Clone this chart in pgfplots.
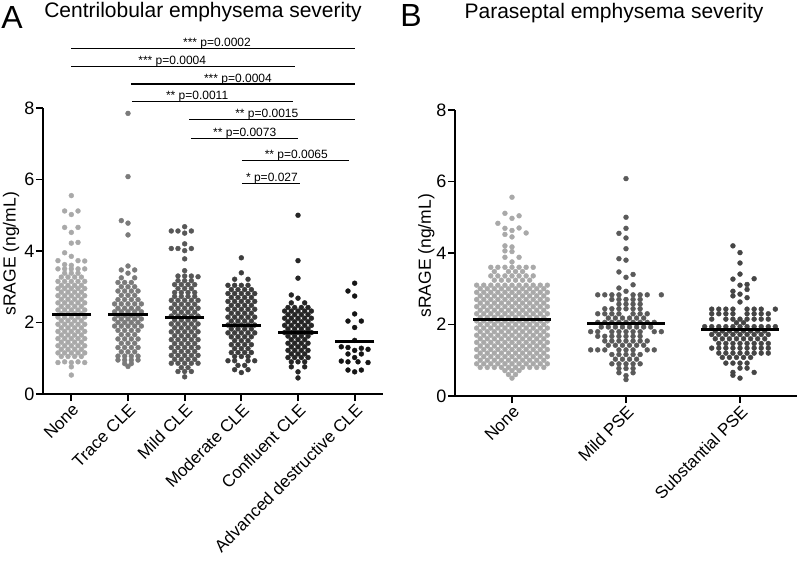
\documentclass[border=0pt]{standalone}
\usepackage{fontspec}
\setmainfont{Liberation Sans}
\usepackage{pgfplots}
\pgfplotsset{compat=1.18}
\definecolor{cNone}{HTML}{A9A9A9}
\definecolor{cTrace}{HTML}{7B7B7B}
\definecolor{cMild}{HTML}{575757}
\definecolor{cMod}{HTML}{3D3D3D}
\definecolor{cConf}{HTML}{262626}
\definecolor{cAdv}{HTML}{151515}
\definecolor{cBMild}{HTML}{5A5A5A}
\definecolor{cBSub}{HTML}{454545}
\newcommand{\tickfont}{\fontsize{17}{20}\selectfont}
\newcommand{\ytickfont}{\fontsize{18}{21}\selectfont}
\newcommand{\labfont}{\fontsize{17.5}{21}\selectfont}
\newcommand{\pfont}{\fontsize{12}{14}\selectfont}
\pgfplotsset{
  gp/.style={scale only axis, axis x line*=bottom, axis y line*=left,
    axis line style={line width=1.8pt}, every tick/.style={line width=1.8pt, black},
    tick align=outside, major tick length=7pt, ymin=0, ymax=8, ytick={0,2,4,6,8},
    clip=false, /pgf/number format/assume math mode=true,
    tick label style={font=\tickfont}, yticklabel style={inner sep=1.5pt, font=\ytickfont},
    x tick label style={rotate=45, anchor=north east, inner sep=1pt},
    ylabel={sRAGE (ng/mL)}},
  dots/.style={only marks, mark=*, mark size=2.45pt},
  med/.style={only marks, mark=-, mark size=#1, mark options={black, line width=3pt}, forget plot}
}
\begin{document}
\begin{tikzpicture}
\path[use as bounding box] (-43pt,-168pt) rectangle (754pt,394pt);
\begin{axis}[gp, at={(0pt,0pt)}, anchor=south west, width=340pt, height=286pt,
  ylabel style={at={(axis description cs:-0.094,0.49)}, anchor=center, font=\labfont},
  xmin=-0.5, xmax=5.5, xtick={0,1,2,3,4,5},
  xticklabels={None,Trace CLE,Mild CLE,Moderate CLE,Confluent CLE,Advanced destructive CLE}]
% None
\addplot[dots, cNone] table[row sep=\\, x expr=\thisrow{k}*0.118, y=y]{k y\\
0 5.55\\-1 5.12\\1 5.12\\0 5.02\\-1 4.66\\1 4.66\\0 4.52\\0 4.22\\1 4.24\\-1 3.95\\0 3.85\\-2 3.73\\1 3.73\\2 3.72\\-1 3.62\\0 3.6\\
-2 3.5\\-1 3.5\\0 3.5\\1 3.5\\2 3.5\\
-1 3.38\\0 3.38\\1 3.38\\
-1.5 3.27\\-0.5 3.27\\0.5 3.27\\1.5 3.27\\
-2 3.15\\-1 3.15\\0 3.15\\1 3.15\\2 3.15\\
-1.5 3.04\\-0.5 3.04\\0.5 3.04\\1.5 3.04\\
-2 2.95\\-1 2.95\\0 2.95\\1 2.95\\2 2.95\\
-1.5 2.85\\-0.5 2.85\\0.5 2.85\\1.5 2.85\\
-2 2.75\\-1 2.75\\0 2.75\\1 2.75\\2 2.75\\
-1.5 2.65\\-0.5 2.65\\0.5 2.65\\1.5 2.65\\
-2 2.55\\-1 2.55\\0 2.55\\1 2.55\\2 2.55\\
-1.5 2.45\\-0.5 2.45\\0.5 2.45\\1.5 2.45\\
-2 2.35\\-1 2.35\\0 2.35\\1 2.35\\2 2.35\\
-1.5 2.25\\-0.5 2.25\\0.5 2.25\\1.5 2.25\\
-2 2.15\\-1 2.15\\0 2.15\\1 2.15\\2 2.15\\
-1.5 2.05\\-0.5 2.05\\0.5 2.05\\1.5 2.05\\
-2 1.95\\-1 1.95\\0 1.95\\1 1.95\\2 1.95\\
-1.5 1.85\\-0.5 1.85\\0.5 1.85\\1.5 1.85\\
-2 1.75\\-1 1.75\\0 1.75\\1 1.75\\2 1.75\\
-1.5 1.65\\-0.5 1.65\\0.5 1.65\\1.5 1.65\\
-2 1.55\\-1 1.55\\0 1.55\\1 1.55\\2 1.55\\
-1.5 1.45\\-0.5 1.45\\0.5 1.45\\1.5 1.45\\
-2 1.35\\-1 1.35\\0 1.35\\1 1.35\\2 1.35\\
-1.5 1.25\\-0.5 1.25\\0.5 1.25\\1.5 1.25\\
-2 1.15\\-1 1.15\\0 1.15\\1 1.15\\2 1.15\\
-1.5 1.05\\-0.5 1.05\\0.5 1.05\\1.5 1.05\\
-2 0.88\\-1 0.9\\0 0.88\\1 0.9\\2 0.88\\0 0.76\\0 0.53\\
};
% Trace
\addplot[dots, cTrace] table[row sep=\\, x expr=\thisrow{k}*0.118+1, y=y]{k y\\
0 7.85\\0 6.08\\-1 4.85\\0 4.78\\0 4.45\\0 3.58\\-1 3.47\\1 3.47\\0 3.38\\-1 3.25\\1 3.25\\-1.5 3.12\\-0.5 3.12\\0.5 3.12\\
-1 3.0\\0 3.0\\1 3.0\\
-1.5 2.88\\-0.5 2.88\\0.5 2.88\\1.5 2.88\\
-1 2.76\\0 2.76\\1 2.76\\
-1.5 2.64\\-0.5 2.64\\0.5 2.64\\1.5 2.64\\
-2 2.52\\-1 2.52\\0 2.52\\1 2.52\\2 2.52\\
-1.5 2.4\\-0.5 2.4\\0.5 2.4\\1.5 2.4\\
-2 2.3\\-1 2.3\\0 2.3\\1 2.3\\2 2.3\\
-1.5 2.2\\-0.5 2.2\\0.5 2.2\\1.5 2.2\\
-2 2.1\\-1 2.1\\0 2.1\\1 2.1\\2 2.1\\
-1.5 2.0\\-0.5 2.0\\0.5 2.0\\1.5 2.0\\
-2 1.9\\-1 1.9\\0 1.9\\1 1.9\\2 1.9\\
-1.5 1.78\\-0.5 1.78\\0.5 1.78\\1.5 1.78\\
-1 1.66\\0 1.66\\1 1.66\\
-1.5 1.54\\-0.5 1.54\\0.5 1.54\\1.5 1.54\\
-1 1.42\\0 1.42\\1 1.42\\
-1.5 1.3\\-0.5 1.3\\0.5 1.3\\1.5 1.3\\
-1 1.18\\0 1.18\\1 1.18\\
-1.5 1.06\\-0.5 1.06\\0.5 1.06\\1.5 1.06\\
-1.5 0.95\\-0.5 0.95\\0.5 0.95\\1.5 0.95\\
-0.5 0.85\\0.5 0.85\\0 0.77\\
};
% Mild
\addplot[dots, cMild] table[row sep=\\, x expr=\thisrow{k}*0.118+2, y=y]{k y\\
0 4.68\\-2 4.56\\-1 4.56\\1 4.56\\0 4.5\\0 4.2\\-2 4.07\\-1 4.07\\1 4.07\\0 4.01\\0 3.78\\0 3.45\\-1 3.3\\0 3.3\\1 3.3\\2 3.28\\
-1 3.17\\0 3.17\\1 3.17\\
-1.5 3.06\\-0.5 3.06\\0.5 3.06\\1.5 3.06\\
-1 2.95\\0 2.95\\1 2.95\\
-1.5 2.84\\-0.5 2.84\\0.5 2.84\\1.5 2.84\\
-1.5 2.73\\-0.5 2.73\\0.5 2.73\\1.5 2.73\\
-2 2.62\\-1 2.62\\0 2.62\\1 2.62\\2 2.62\\
-1.5 2.51\\-0.5 2.51\\0.5 2.51\\1.5 2.51\\
-2 2.4\\-1 2.4\\0 2.4\\1 2.4\\2 2.4\\
-1.5 2.29\\-0.5 2.29\\0.5 2.29\\1.5 2.29\\
-2 2.18\\-1 2.18\\0 2.18\\1 2.18\\2 2.18\\
-1.5 2.07\\-0.5 2.07\\0.5 2.07\\1.5 2.07\\
-2 1.96\\-1 1.96\\0 1.96\\1 1.96\\2 1.96\\
-1.5 1.85\\-0.5 1.85\\0.5 1.85\\1.5 1.85\\
-2 1.74\\-1 1.74\\0 1.74\\1 1.74\\2 1.74\\
-1.5 1.63\\-0.5 1.63\\0.5 1.63\\1.5 1.63\\
-2 1.52\\-1 1.52\\0 1.52\\1 1.52\\2 1.52\\
-1.5 1.41\\-0.5 1.41\\0.5 1.41\\1.5 1.41\\
-2 1.3\\-1 1.3\\0 1.3\\1 1.3\\2 1.3\\
-1.5 1.19\\-0.5 1.19\\0.5 1.19\\1.5 1.19\\
-2 1.08\\-1 1.08\\0 1.08\\1 1.08\\2 1.08\\
-1.5 0.97\\-0.5 0.97\\0.5 0.97\\1.5 0.97\\
-2 0.86\\-1 0.86\\0 0.86\\1 0.86\\2 0.86\\
-0.5 0.74\\0.5 0.74\\-1 0.63\\0 0.63\\1 0.63\\0 0.48\\
};
% Moderate
\addplot[dots, cMod] table[row sep=\\, x expr=\thisrow{k}*0.118+3, y=y]{k y\\
0 3.81\\0 3.39\\-1 3.21\\1 3.21\\-2 3.04\\-1 3.04\\0 3.04\\1 3.04\\
-1.5 2.92\\-0.5 2.92\\0.5 2.92\\1.5 2.92\\
-2 2.81\\-1 2.81\\0 2.81\\1 2.81\\2 2.81\\
-1.5 2.7\\-0.5 2.7\\0.5 2.7\\1.5 2.7\\
-2 2.59\\-1 2.59\\0 2.59\\1 2.59\\2 2.59\\
-1.5 2.48\\-0.5 2.48\\0.5 2.48\\1.5 2.48\\
-2 2.37\\-1 2.37\\0 2.37\\1 2.37\\2 2.37\\
-1.5 2.26\\-0.5 2.26\\0.5 2.26\\1.5 2.26\\
-2 2.15\\-1 2.15\\0 2.15\\1 2.15\\2 2.15\\
-1.5 2.04\\-0.5 2.04\\0.5 2.04\\1.5 2.04\\
-2 1.93\\-1 1.93\\0 1.93\\1 1.93\\2 1.93\\
-1.5 1.82\\-0.5 1.82\\0.5 1.82\\1.5 1.82\\
-2 1.71\\-1 1.71\\0 1.71\\1 1.71\\2 1.71\\
-1.5 1.6\\-0.5 1.6\\0.5 1.6\\1.5 1.6\\
-1 1.49\\0 1.49\\1 1.49\\
-1.5 1.38\\-0.5 1.38\\0.5 1.38\\1.5 1.38\\
-1 1.27\\0 1.27\\1 1.27\\
-1.5 1.16\\-0.5 1.16\\0.5 1.16\\1.5 1.16\\
-1 1.05\\0 1.05\\1 1.05\\
-2 0.93\\-1 0.93\\1 0.93\\2 0.93\\-0.5 0.8\\0.5 0.8\\-1 0.68\\1 0.68\\0 0.6\\
};
% Confluent
\addplot[dots, cConf] table[row sep=\\, x expr=\thisrow{k}*0.118+4, y=y]{k y\\
0 5.0\\0 3.73\\0 3.24\\-1 2.77\\0 2.68\\-1 2.55\\1 2.55\\
-1.5 2.42\\-0.5 2.42\\0.5 2.42\\1.5 2.42\\
-2 2.32\\-1 2.32\\0 2.32\\1 2.32\\2 2.32\\
-1.5 2.22\\-0.5 2.22\\0.5 2.22\\1.5 2.22\\
-2 2.12\\-1 2.12\\0 2.12\\1 2.12\\2 2.12\\
-1.5 2.02\\-0.5 2.02\\0.5 2.02\\1.5 2.02\\
-2 1.92\\-1 1.92\\0 1.92\\1 1.92\\2 1.92\\
-1.5 1.82\\-0.5 1.82\\0.5 1.82\\1.5 1.82\\
-2 1.72\\-1 1.72\\0 1.72\\1 1.72\\2 1.72\\
-1.5 1.62\\-0.5 1.62\\0.5 1.62\\1.5 1.62\\
-1 1.52\\0 1.52\\1 1.52\\
-1.5 1.42\\-0.5 1.42\\0.5 1.42\\1.5 1.42\\
-1 1.32\\0 1.32\\1 1.32\\
-1.5 1.22\\-0.5 1.22\\0.5 1.22\\1.5 1.22\\
-1 1.12\\0 1.12\\1 1.12\\
-1.5 1.02\\-0.5 1.02\\0.5 1.02\\1.5 1.02\\
-1 0.9\\0 0.9\\1 0.9\\-1 0.76\\1 0.76\\0 0.62\\0 0.45\\
};
% Advanced
\addplot[dots, cAdv] table[row sep=\\, x expr=\thisrow{k}*0.118+5, y=y]{k y\\
0 3.1\\-1 2.88\\0 2.74\\0 2.24\\-1 2.04\\1 2.04\\0 1.86\\0 1.5\\-2 1.32\\-1 1.3\\1 1.28\\2 1.25\\0 1.22\\-1 1.12\\1 1.12\\0 1.02\\-2 0.92\\-1 0.9\\0.5 0.9\\2 0.88\\-1 0.67\\1 0.67\\0 0.62\\
};
% medians
\addplot[med=19.8pt] coordinates {(0,2.23) (1,2.21) (2,2.13) (3,1.93) (4,1.71) (5,1.48)};
% significance brackets
\draw[line width=1.3pt] (axis cs:0,9.67) -- (axis cs:5,9.67);
\node[font=\pfont, anchor=base] at (axis cs:2.57,9.72) {*** p=0.0002};
\draw[line width=1.3pt] (axis cs:0,9.16) -- (axis cs:3.95,9.16);
\node[font=\pfont, anchor=base] at (axis cs:1.78,9.21) {*** p=0.0004};
\draw[line width=1.3pt] (axis cs:1.05,8.67) -- (axis cs:5,8.67);
\node[font=\pfont, anchor=base] at (axis cs:2.94,8.72) {*** p=0.0004};
\draw[line width=1.3pt] (axis cs:1.07,8.18) -- (axis cs:3.91,8.18);
\node[font=\pfont, anchor=base] at (axis cs:2.22,8.23) {** p=0.0011};
\draw[line width=1.3pt] (axis cs:2.08,7.68) -- (axis cs:5,7.68);
\node[font=\pfont, anchor=base] at (axis cs:3.45,7.73) {** p=0.0015};
\draw[line width=1.3pt] (axis cs:2.11,7.15) -- (axis cs:4,7.15);
\node[font=\pfont, anchor=base] at (axis cs:3.06,7.2) {** p=0.0073};
\draw[line width=1.3pt] (axis cs:3.01,6.53) -- (axis cs:4.9,6.53);
\node[font=\pfont, anchor=base] at (axis cs:3.97,6.58) {** p=0.0065};
\draw[line width=1.3pt] (axis cs:3.01,5.89) -- (axis cs:4.04,5.89);
\node[font=\pfont, anchor=base] at (axis cs:3.54,5.94) {* p=0.027};
\end{axis}

\begin{axis}[gp, at={(412pt,-2pt)}, anchor=south west, width=342pt, height=286pt,
  ylabel style={at={(axis description cs:-0.084,0.49)}, anchor=center, font=\labfont},
  xmin=-0.5, xmax=2.5, xtick={0,1,2},
  xticklabels={None,Mild PSE,Substantial PSE}]
% None
\addplot[dots, cNone] table[row sep=\\, x expr=\thisrow{k}*0.062, y=y]{k y\\
0 5.56\\-1 5.11\\1 5.04\\0 4.97\\-2 4.83\\-1 4.69\\1 4.7\\0 4.63\\2 4.56\\-1 4.52\\0 4.45\\-1 4.2\\0 4.17\\-1 4.06\\0 4.04\\-1 3.88\\1 3.88\\0 3.75\\
-3 3.6\\-2 3.6\\-1 3.6\\0 3.6\\1 3.6\\2 3.6\\3 3.6\\
-2.5 3.48\\-0.5 3.48\\0.5 3.48\\1.5 3.48\\
-3 3.36\\-2 3.36\\-1 3.36\\0 3.36\\1 3.36\\2 3.36\\3 3.36\\
-2.5 3.24\\-1.5 3.24\\-0.5 3.24\\0.5 3.24\\1.5 3.24\\2.5 3.24\\
-5 3.1\\-4 3.1\\-3 3.1\\-2 3.1\\-1 3.1\\0 3.1\\1 3.1\\2 3.1\\3 3.1\\4 3.1\\5 3.1\\
-4.5 3.0\\-3.5 3.0\\-2.5 3.0\\-1.5 3.0\\-0.5 3.0\\0.5 3.0\\1.5 3.0\\2.5 3.0\\3.5 3.0\\4.5 3.0\\
-5 2.9\\-4 2.9\\-3 2.9\\-2 2.9\\-1 2.9\\0 2.9\\1 2.9\\2 2.9\\3 2.9\\4 2.9\\5 2.9\\
-4.5 2.8\\-3.5 2.8\\-2.5 2.8\\-1.5 2.8\\-0.5 2.8\\0.5 2.8\\1.5 2.8\\2.5 2.8\\3.5 2.8\\4.5 2.8\\
-5 2.7\\-4 2.7\\-3 2.7\\-2 2.7\\-1 2.7\\0 2.7\\1 2.7\\2 2.7\\3 2.7\\4 2.7\\5 2.7\\
-4.5 2.6\\-3.5 2.6\\-2.5 2.6\\-1.5 2.6\\-0.5 2.6\\0.5 2.6\\1.5 2.6\\2.5 2.6\\3.5 2.6\\4.5 2.6\\
-5 2.5\\-4 2.5\\-3 2.5\\-2 2.5\\-1 2.5\\0 2.5\\1 2.5\\2 2.5\\3 2.5\\4 2.5\\5 2.5\\
-4.5 2.4\\-3.5 2.4\\-2.5 2.4\\-1.5 2.4\\-0.5 2.4\\0.5 2.4\\1.5 2.4\\2.5 2.4\\3.5 2.4\\4.5 2.4\\
-5 2.3\\-4 2.3\\-3 2.3\\-2 2.3\\-1 2.3\\0 2.3\\1 2.3\\2 2.3\\3 2.3\\4 2.3\\5 2.3\\
-4.5 2.2\\-3.5 2.2\\-2.5 2.2\\-1.5 2.2\\-0.5 2.2\\0.5 2.2\\1.5 2.2\\2.5 2.2\\3.5 2.2\\4.5 2.2\\
-5 2.1\\-4 2.1\\-3 2.1\\-2 2.1\\-1 2.1\\0 2.1\\1 2.1\\2 2.1\\3 2.1\\4 2.1\\5 2.1\\
-4.5 2.0\\-3.5 2.0\\-2.5 2.0\\-1.5 2.0\\-0.5 2.0\\0.5 2.0\\1.5 2.0\\2.5 2.0\\3.5 2.0\\4.5 2.0\\
-5 1.9\\-4 1.9\\-3 1.9\\-2 1.9\\-1 1.9\\0 1.9\\1 1.9\\2 1.9\\3 1.9\\4 1.9\\5 1.9\\
-4.5 1.8\\-3.5 1.8\\-2.5 1.8\\-1.5 1.8\\-0.5 1.8\\0.5 1.8\\1.5 1.8\\2.5 1.8\\3.5 1.8\\4.5 1.8\\
-5 1.7\\-4 1.7\\-3 1.7\\-2 1.7\\-1 1.7\\0 1.7\\1 1.7\\2 1.7\\3 1.7\\4 1.7\\5 1.7\\
-4.5 1.6\\-3.5 1.6\\-2.5 1.6\\-1.5 1.6\\-0.5 1.6\\0.5 1.6\\1.5 1.6\\2.5 1.6\\3.5 1.6\\4.5 1.6\\
-5 1.5\\-4 1.5\\-3 1.5\\-2 1.5\\-1 1.5\\0 1.5\\1 1.5\\2 1.5\\3 1.5\\4 1.5\\5 1.5\\
-4.5 1.4\\-3.5 1.4\\-2.5 1.4\\-1.5 1.4\\-0.5 1.4\\0.5 1.4\\1.5 1.4\\2.5 1.4\\3.5 1.4\\4.5 1.4\\
-5 1.3\\-4 1.3\\-3 1.3\\-2 1.3\\-1 1.3\\0 1.3\\1 1.3\\2 1.3\\3 1.3\\4 1.3\\5 1.3\\
-4.5 1.2\\-3.5 1.2\\-2.5 1.2\\-1.5 1.2\\-0.5 1.2\\0.5 1.2\\1.5 1.2\\2.5 1.2\\3.5 1.2\\4.5 1.2\\
-5 1.1\\-4 1.1\\-3 1.1\\-2 1.1\\-1 1.1\\0 1.1\\1 1.1\\2 1.1\\3 1.1\\4 1.1\\5 1.1\\
-4.5 1.0\\-3.5 1.0\\-2.5 1.0\\-1.5 1.0\\-0.5 1.0\\0.5 1.0\\1.5 1.0\\2.5 1.0\\3.5 1.0\\4.5 1.0\\
-5 0.9\\-4 0.9\\-3 0.9\\-2 0.9\\-1 0.9\\0 0.9\\1 0.9\\2 0.9\\3 0.9\\4 0.9\\5 0.9\\
-4.5 0.8\\-3.5 0.8\\-2.5 0.8\\-1.5 0.8\\-0.5 0.8\\0.5 0.8\\1.5 0.8\\2.5 0.8\\3.5 0.8\\4.5 0.8\\
-1 0.71\\0 0.71\\1 0.71\\-0.5 0.6\\0.5 0.6\\0 0.5\\
};
% Mild PSE
\addplot[dots, cBMild] table[row sep=\\, x expr=\thisrow{k}*0.062+1, y=y]{k y\\
0 6.08\\0 5.0\\0 4.69\\-1 4.55\\0 4.42\\0 4.12\\-1 3.84\\0 3.8\\-1 3.47\\1 3.4\\0 3.32\\1 3.11\\-1 3.02\\0 2.93\\
-4 2.83\\-3 2.83\\-2 2.83\\-1 2.83\\1 2.83\\2 2.83\\3 2.83\\5 2.83\\
-2 2.7\\-1 2.7\\0 2.7\\1 2.7\\2 2.7\\
-1 2.57\\0 2.57\\1 2.57\\2 2.57\\
-3 2.44\\-2 2.44\\-1 2.44\\0 2.44\\1 2.44\\2 2.44\\
-4 2.3\\-3 2.3\\-2 2.3\\-1 2.3\\1 2.3\\2 2.3\\3 2.3\\
-2.5 2.18\\-1.5 2.18\\-0.5 2.18\\0.5 2.18\\1.5 2.18\\2.5 2.18\\
-4 2.06\\-3 2.06\\-2 2.06\\-1 2.06\\0 2.06\\1 2.06\\2 2.06\\3 2.06\\4 2.06\\
-3.5 1.93\\-2.5 1.93\\-1.5 1.93\\-0.5 1.93\\0.5 1.93\\1.5 1.93\\2.5 1.93\\3.5 1.93\\
-5 1.8\\-4 1.8\\-2 1.8\\-1 1.8\\0 1.8\\1 1.8\\2 1.8\\4 1.8\\5 1.8\\
-4 1.67\\-3 1.67\\-2 1.67\\-1 1.67\\0 1.67\\1 1.67\\2 1.67\\
-3 1.54\\-2 1.54\\-1 1.54\\0 1.54\\1 1.54\\2 1.54\\3 1.54\\
-2.5 1.42\\-1.5 1.42\\-0.5 1.42\\0.5 1.42\\1.5 1.42\\2.5 1.42\\
-5 1.29\\-4 1.29\\-3 1.29\\-1 1.29\\0 1.29\\1 1.29\\3 1.29\\4 1.29\\
-2 1.16\\-1 1.16\\0 1.16\\1 1.16\\2 1.16\\
-1.5 1.03\\-0.5 1.03\\0.5 1.03\\1.5 1.03\\
-2 0.9\\-1 0.9\\0 0.9\\1 0.9\\2 0.9\\
-1 0.77\\0 0.77\\1 0.77\\-1 0.65\\1 0.65\\0 0.57\\0 0.46\\
};
% Substantial PSE
\addplot[dots, cBSub] table[row sep=\\, x expr=\thisrow{k}*0.062+2, y=y]{k y\\
-1 4.2\\0 4.01\\0 3.72\\0 3.41\\-1 3.27\\2 3.28\\0 3.1\\1 3.12\\1 2.98\\-1 2.93\\-1 2.8\\0 2.85\\1 2.75\\0 2.63\\
-4 2.43\\-3 2.43\\-2 2.43\\-1 2.43\\1 2.43\\2 2.43\\3 2.43\\5 2.43\\
-4 2.3\\-3 2.3\\-2 2.3\\-1 2.3\\1 2.3\\2 2.3\\3 2.3\\4 2.3\\
-4 2.15\\-2 2.15\\-1 2.15\\0 2.15\\1 2.15\\2 2.15\\3 2.15\\4 2.15\\
-0.5 2.05\\0.5 2.05\\
-5 1.94\\-4 1.94\\-3 1.94\\-2 1.94\\-1 1.94\\0 1.94\\1 1.94\\2 1.94\\3 1.94\\4 1.94\\5 1.94\\
-3.5 1.82\\-2.5 1.82\\-1.5 1.82\\-0.5 1.82\\0.5 1.82\\1.5 1.82\\2.5 1.82\\3.5 1.82\\
-4 1.72\\-3 1.72\\-2 1.72\\-1 1.72\\0 1.72\\1 1.72\\2 1.72\\3 1.72\\4 1.72\\
-3.5 1.6\\-2.5 1.6\\-1.5 1.6\\-0.5 1.6\\0.5 1.6\\1.5 1.6\\2.5 1.6\\3.5 1.6\\
-3 1.47\\-2 1.47\\-1 1.47\\0 1.47\\1 1.47\\2 1.47\\3 1.47\\4 1.47\\
-4 1.34\\-3 1.34\\-2 1.34\\-1 1.34\\0 1.34\\1 1.34\\2 1.34\\3 1.34\\4 1.34\\
-3 1.2\\-2 1.2\\-1 1.2\\0 1.2\\1 1.2\\2 1.2\\3 1.2\\4 1.2\\
-2.5 1.08\\-1.5 1.08\\-0.5 1.08\\0.5 1.08\\1.5 1.08\\
-2 0.92\\-1 0.92\\0 0.92\\1 0.92\\
0 0.78\\1 0.78\\-1 0.66\\2 0.66\\-1 0.58\\0 0.5\\
};
% medians
\addplot[med=38.8pt] coordinates {(0,2.13) (1,2.04) (2,1.87)};
\end{axis}

\node[font=\fontsize{21}{24}\selectfont, anchor=base] at (160pt,376.5pt) {Centrilobular emphysema severity};
\node[font=\fontsize{32}{36}\selectfont, anchor=base] at (-31pt,365.7pt) {A};
\node[font=\fontsize{21}{24}\selectfont, anchor=base] at (571pt,375.7pt) {Paraseptal emphysema severity};
\node[font=\fontsize{32}{36}\selectfont, anchor=base] at (368pt,367.3pt) {B};
\end{tikzpicture}
\end{document}
